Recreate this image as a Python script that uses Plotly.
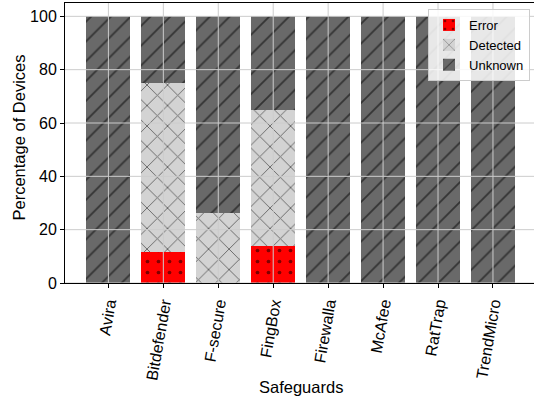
import plotly.graph_objects as go

categories = ["Avira", "Bitdefender", "F-secure", "FingBox", "Firewalla", "McAfee", "RatTrap", "TrendMicro"]
error_vals = [0, 11.8, 0, 13.9, 0, 0, 0, 0]
detected_vals = [0, 63.2, 26.1, 50.8, 0, 0, 0, 0]
unknown_vals = [100, 25.0, 73.9, 35.3, 100, 100, 100, 100]
y_ticks = [0, 20, 40, 60, 80, 100]

FONT = "Liberation Sans, Arial, sans-serif"

fig = go.Figure()
fig.add_trace(go.Bar(
    x=categories, y=error_vals, name="Error", width=0.8,
    marker=dict(color="#ff0000", line=dict(width=0),
                pattern=dict(shape=".", fgcolor="black", size=11, solidity=0.09)),
))
fig.add_trace(go.Bar(
    x=categories, y=detected_vals, name="Detected", width=0.8,
    marker=dict(color="#d3d3d3", line=dict(width=0),
                pattern=dict(shape="x", fgcolor="black", size=14.5, solidity=0.13)),
))
fig.add_trace(go.Bar(
    x=categories, y=unknown_vals, name="Unknown", width=0.8,
    marker=dict(color="#696969", line=dict(width=0),
                pattern=dict(shape="/", fgcolor="black", size=14, solidity=0.13)),
))

shapes = []
for t in y_ticks:
    shapes.append(dict(type="line", xref="paper", yref="y", x0=0, x1=1, y0=t, y1=t,
                       line=dict(color="#cccccc", width=1), layer="above"))
for i in range(len(categories)):
    shapes.append(dict(type="line", xref="x", yref="paper", x0=i, x1=i, y0=0, y1=1,
                       line=dict(color="#cccccc", width=1), layer="above"))

annotations = [
    dict(text="Safeguards", xref="paper", yref="paper", x=0.503, y=-0.3714,
         xanchor="center", yanchor="middle", showarrow=False,
         font=dict(family=FONT, size=16.5, color="black")),
    dict(text="Percentage of Devices", xref="paper", yref="paper", x=-0.0981, y=0.5196,
         xanchor="center", yanchor="middle", showarrow=False, textangle=-90,
         font=dict(family=FONT, size=16.5, color="black")),
]

fig.update_layout(
    width=534, height=400,
    margin=dict(l=65, r=0, t=3, b=117),
    barmode="stack",
    bargap=0.2,
    plot_bgcolor="white", paper_bgcolor="white",
    font=dict(family=FONT, size=16, color="black"),
    shapes=shapes,
    annotations=annotations,
    legend=dict(
        x=0.9915, y=0.9786, xanchor="right", yanchor="top",
        traceorder="normal",
        bgcolor="rgba(255,255,255,0.85)", bordercolor="#cccccc", borderwidth=1,
        font=dict(family=FONT, size=13, color="black"),
        tracegroupgap=0, itemsizing="constant",
    ),
    xaxis=dict(
        range=[-0.79, 7.747],
        automargin=False,
        showgrid=False,
        showline=True, linecolor="black", linewidth=1, mirror=True,
        ticks="outside", ticklen=4, tickwidth=1, tickcolor="black",
        tickangle=-80,
        tickfont=dict(family=FONT, size=16),
    ),
    yaxis=dict(
        range=[0, 105],
        automargin=False,
        tickvals=y_ticks,
        showgrid=False, zeroline=False,
        showline=True, linecolor="black", linewidth=1,
        ticks="outside", ticklen=4, tickwidth=1, tickcolor="black",
        tickfont=dict(family=FONT, size=16),
    ),
)

fig.write_html(
    "out.html",
    config={"displayModeBar": False},
    post_script="document.body.style.margin='0px';document.body.style.overflow='hidden';",
)
